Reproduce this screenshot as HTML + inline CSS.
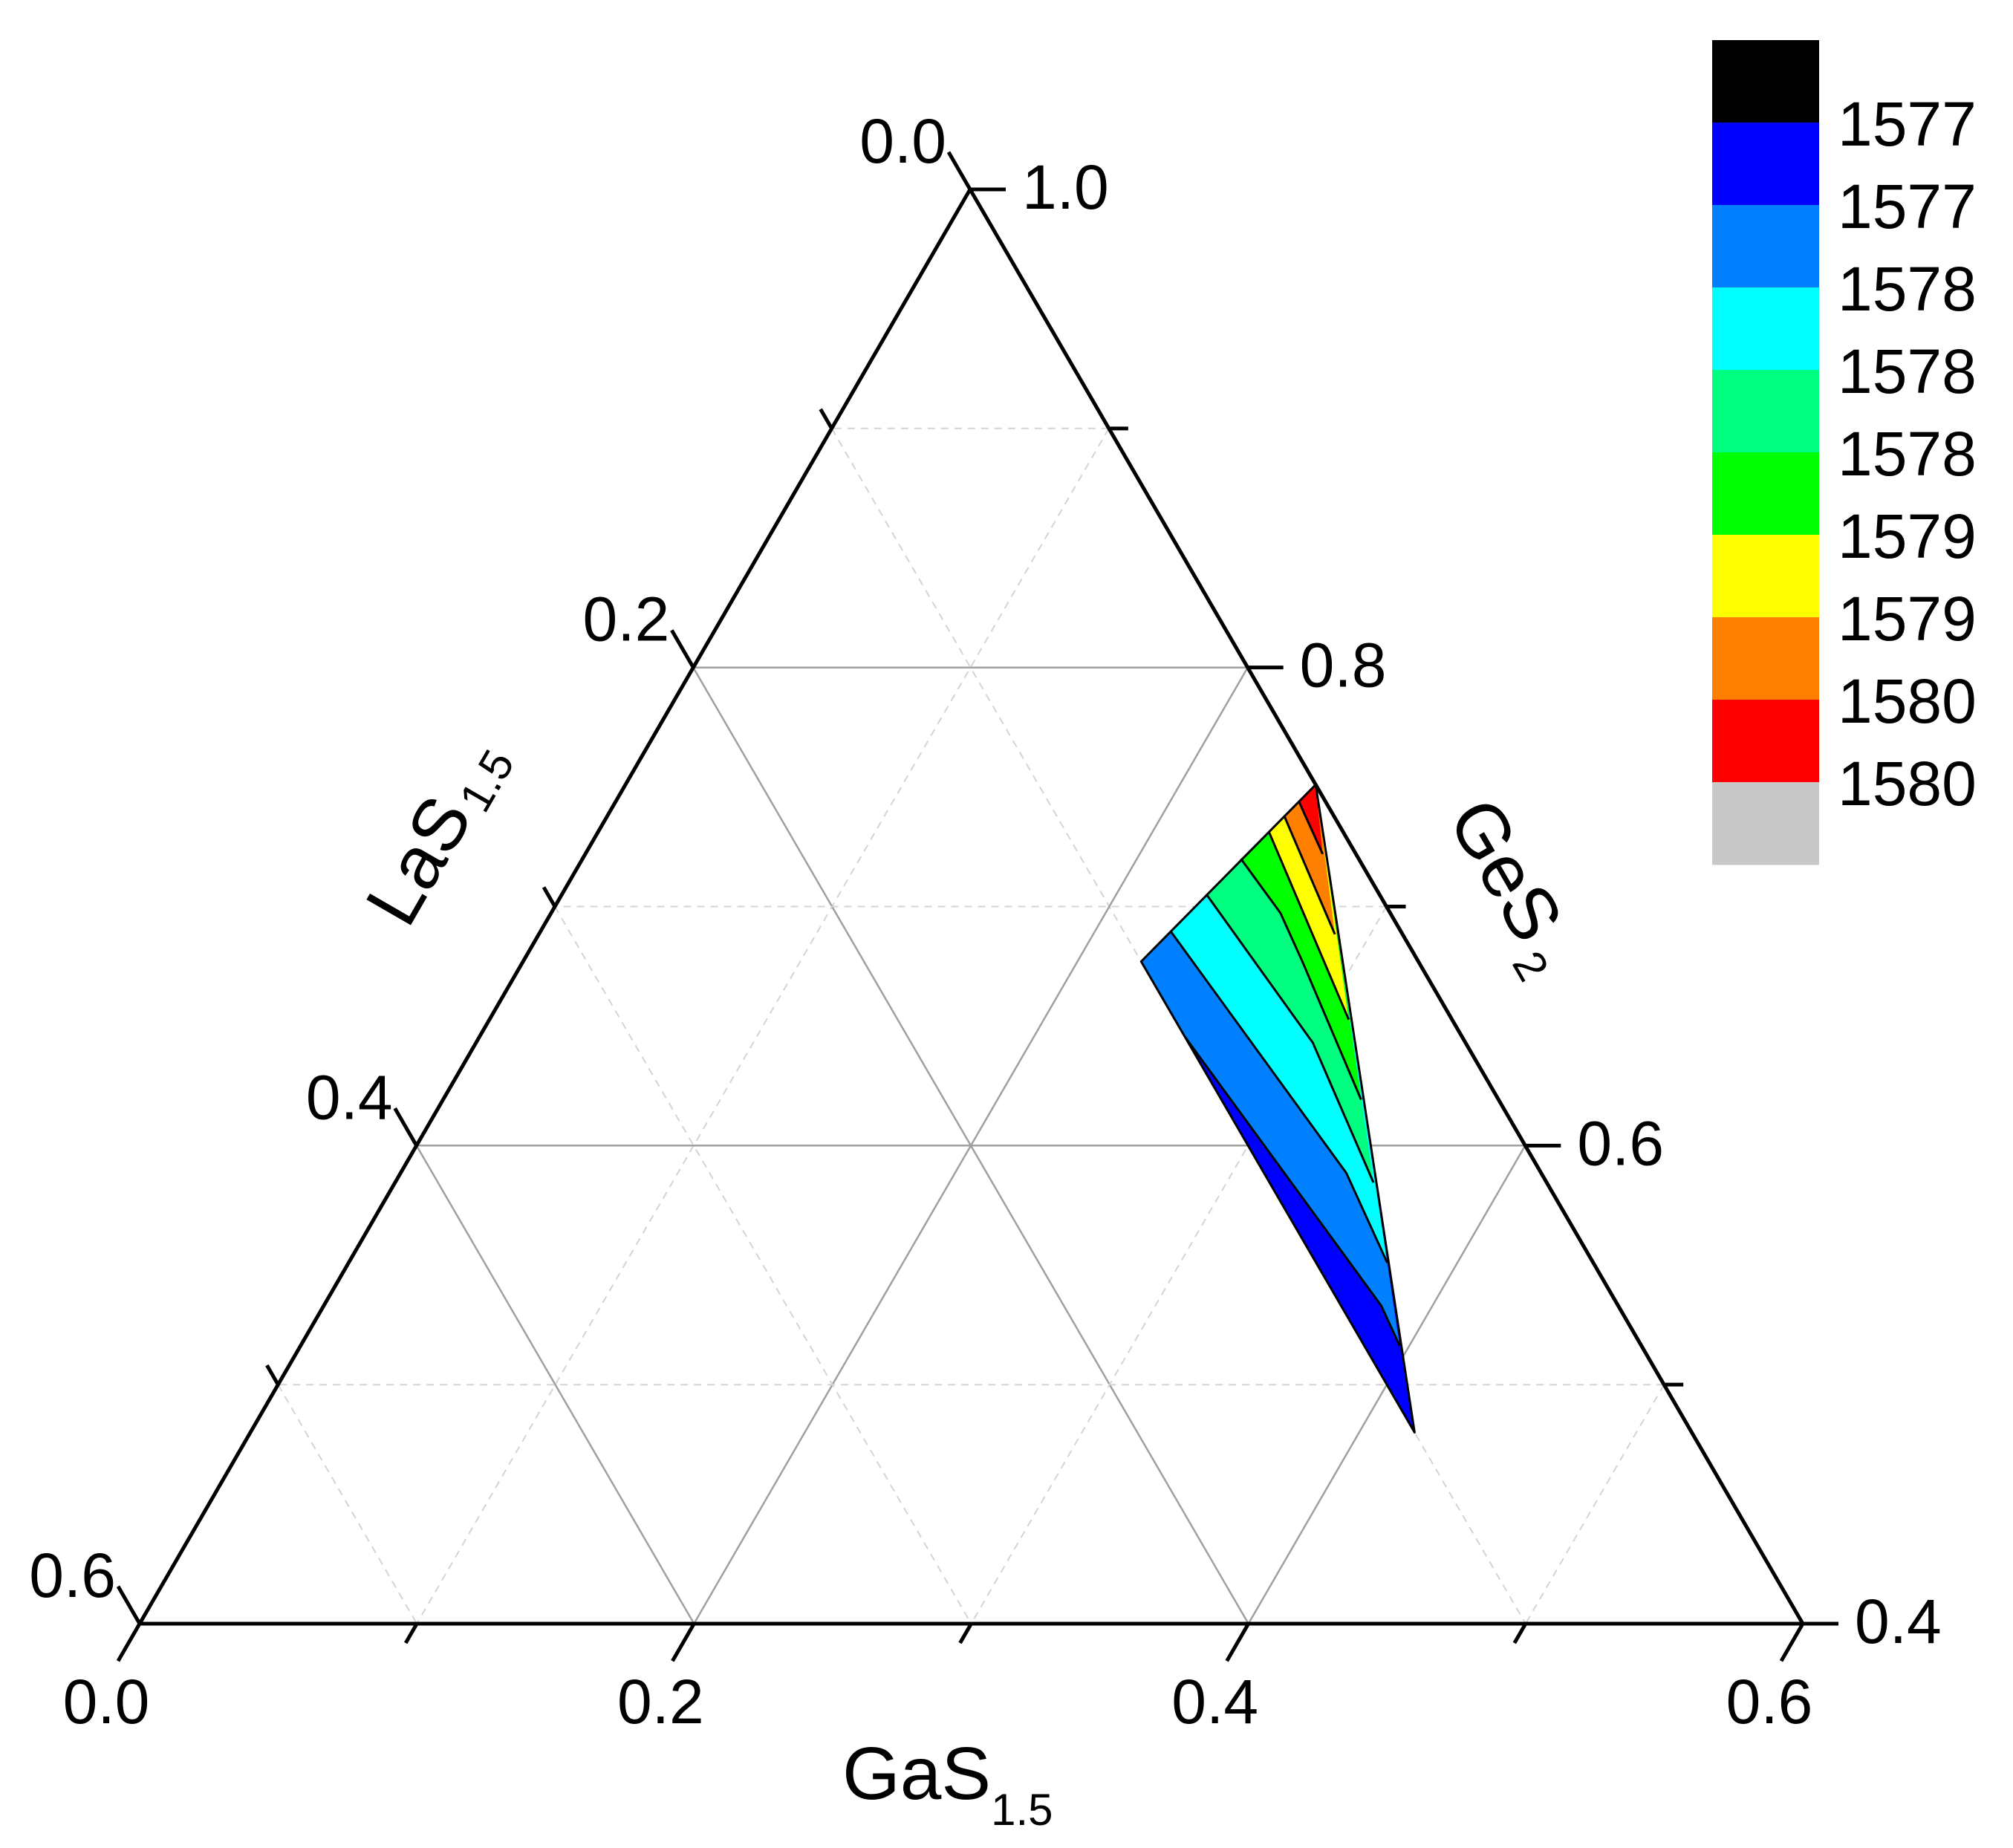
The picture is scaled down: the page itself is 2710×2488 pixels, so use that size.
<!DOCTYPE html>
<html><head><meta charset="utf-8">
<style>
html,body{margin:0;padding:0;background:#fff;}
svg{display:block;}
text{font-family:"Liberation Sans",Arial,sans-serif;fill:#000;}
</style></head>
<body>
<svg id="chart" width="2710" height="2488" viewBox="0 0 2710 2488" xmlns="http://www.w3.org/2000/svg">
<g id="grid"></g>
<g id="contours"></g>
<g id="axes"></g>
<g id="legend"></g>
<text x="1134" y="2422" font-size="100">GaS<tspan font-size="60" dy="35">1.5</tspan></text>
<text font-size="100" transform="translate(585,1118) rotate(-60)" text-anchor="middle" x="0" y="36">LaS<tspan font-size="60" dx="8" dy="12">1.5</tspan></text>
<text font-size="100" transform="translate(2040,1190) rotate(60)" text-anchor="middle" x="0" y="36">GeS<tspan font-size="60" dx="12" dy="22">2</tspan></text>
</svg>
<script>
// ---- data ----
const tickValuesGa = [0.0,0.1,0.2,0.3,0.4,0.5,0.6];
const tickLabelsGa = ["0.0","","0.2","","0.4","","0.6"];
const tickValuesLa = [0.0,0.1,0.2,0.3,0.4,0.5,0.6];
const tickLabelsLa = ["0.0","","0.2","","0.4","","0.6"];
const tickValuesGe = [1.0,0.9,0.8,0.7,0.6,0.5,0.4];
const tickLabelsGe = ["1.0","","0.8","","0.6","","0.4"];
const legendColors = ["#000000","#0000ff","#0080ff","#00ffff","#00ff80","#00ff00","#ffff00","#ff8000","#ff0000","#c8c8c8"];
const legendLabels = ["1577","1577","1578","1578","1578","1579","1579","1580","1580"];
// domain outer vertices [Ga, La]
const regionTop = [0.249,0.0];
const regionLeft = [0.223,0.100];
const regionBottom = [0.420,0.100];
// contour lines, each as [Ga, La] points
const contourAzureBlue = [[0.2545,0.100],[0.3814,0.0855],[0.3965,0.0872]];
const contourCyanAzure = [[0.2276,0.0830],[0.3412,0.0703],[0.3747,0.0743]];
const contourSpringCyan = [[0.2324,0.0624],[0.3019,0.0551],[0.3530,0.0625]];
const contourGreenSpring = [[0.2375,0.0425],[0.2631,0.0396],[0.2816,0.0419],[0.3312,0.0496]];
const contourYellowGreen = [[0.2423,0.0268],[0.3100,0.0373]];
const contourOrangeYellow = [[0.2442,0.0179],[0.2872,0.0244]];
const contourRedOrange = [[0.2466,0.0096],[0.2660,0.0120]];
const bandColors = ["#0000ff","#0080ff","#00ffff","#00ff80","#00ff00","#ffff00","#ff8000","#ff0000"];

// ---- axis functions ----
const TOP=[1306,255], BL=[188,2186], BR=[2427,2186];
function pt(ga,la){
  const u=ga/0.6, v=la/0.6;
  return [TOP[0]+u*(BR[0]-TOP[0])+v*(BL[0]-TOP[0]), TOP[1]+u*(BR[1]-TOP[1])+v*(BL[1]-TOP[1])];
}
const NS="http://www.w3.org/2000/svg";
function mk(tag,attrs,parent){const e=document.createElementNS(NS,tag);for(const k in attrs)e.setAttribute(k,attrs[k]);parent.appendChild(e);return e;}
const P=a=>a.map(p=>{const q=pt(p[0],p[1]);return q[0].toFixed(1)+","+q[1].toFixed(1);}).join(" ");

// ---- grid ----
const grid=document.getElementById('grid');
for(let i=1;i<6;i++){
  const t=i/10, major=(i%2===0);
  const st=major?{stroke:"#a0a0a0","stroke-width":2.5,fill:"none"}:{stroke:"#d4d4d4","stroke-width":2,"stroke-dasharray":"10,8",fill:"none"};
  let l=mk('polyline',Object.assign({points:P([[t,0],[t,0.6-t]])},st),grid);
  
  
  l=mk('polyline',Object.assign({points:P([[0,t],[0.6-t,t]])},st),grid);
  
  
  l=mk('polyline',Object.assign({points:P([[t,0],[0,t]])},st),grid);
  
  
}

// ---- contours (painter's algorithm) ----
const cg=document.getElementById('contours');
let e=mk('polygon',{points:P([regionTop,regionLeft,regionBottom]),fill:bandColors[0],stroke:"none"},cg);


const lines=[contourAzureBlue,contourCyanAzure,contourSpringCyan,contourGreenSpring,contourYellowGreen,contourOrangeYellow,contourRedOrange];
const bandNames=["band-azure","band-cyan","band-spring-green","band-green","band-yellow","band-orange","band-red"];
lines.forEach((ln,i)=>{
  let poly=ln.slice();
  poly.push(regionTop);
  if(i===0) poly.push(regionLeft);
  const el=mk('polygon',{points:P(poly),fill:bandColors[i+1],stroke:"none"},cg);
  
  
});
lines.forEach((ln,i)=>{
  const el=mk('polyline',{points:P(ln),fill:"none",stroke:"#000","stroke-width":3},cg);
  
  
});
e=mk('polygon',{points:P([regionTop,regionLeft,regionBottom]),fill:"none",stroke:"#000","stroke-width":3,"stroke-linejoin":"round"},cg);



// ---- axes ----
const ax=document.getElementById('axes');
e=mk('polygon',{points:P([[0,0],[0,0.6],[0.6,0]]),fill:"none",stroke:"#000","stroke-width":5,"stroke-linejoin":"miter"},ax);


const cos60=0.5, sin60=0.866;
tickValuesGa.forEach((v,i)=>{
  const p=pt(v,0.6-v); const L=(i%2===0)?58:30;
  const el=mk('line',{x1:p[0],y1:p[1],x2:p[0]-L*cos60,y2:p[1]+L*sin60,stroke:"#000","stroke-width":5},ax);
  
  
  if(tickLabelsGa[i]){
    const t=mk('text',{x:p[0]-45,y:2320,"font-size":84,"text-anchor":"middle"},ax);
    t.textContent=tickLabelsGa[i];
    
    
  }
});
tickValuesLa.forEach((v,i)=>{
  const p=pt(0,v); const L=(i%2===0)?58:30;
  const el=mk('line',{x1:p[0],y1:p[1],x2:p[0]-L*cos60,y2:p[1]-L*sin60,stroke:"#000","stroke-width":5},ax);
  
  
  if(tickLabelsLa[i]){
    const t=mk('text',{x:p[0]-32,y:p[1]-36,"font-size":84,"text-anchor":"end"},ax);
    t.textContent=tickLabelsLa[i];
    
    
  }
});
tickValuesGe.forEach((v,i)=>{
  const ga=1-v; const p=pt(ga,0); const L=(i%2===0)?48:26;
  const el=mk('line',{x1:p[0],y1:p[1],x2:p[0]+L,y2:p[1],stroke:"#000","stroke-width":5},ax);
  
  
  if(tickLabelsGe[i]){
    const t=mk('text',{x:p[0]+70,y:p[1]+26,"font-size":84},ax);
    t.textContent=tickLabelsGe[i];
    
    
  }
});

// ---- legend ----
const lg=document.getElementById('legend');
const LX=2305, LY=54, LW=144, LH=111;
legendColors.forEach((c,i)=>{
  const r=mk('rect',{x:LX,y:LY+i*LH,width:LW,height:LH+0.5,fill:c},lg);
  
  
});
legendLabels.forEach((s,i)=>{
  const t=mk('text',{x:2474,y:LY+(i+1)*LH+31,"font-size":84},lg);
  t.textContent=s;
  
  
});
</script>
</body></html>
